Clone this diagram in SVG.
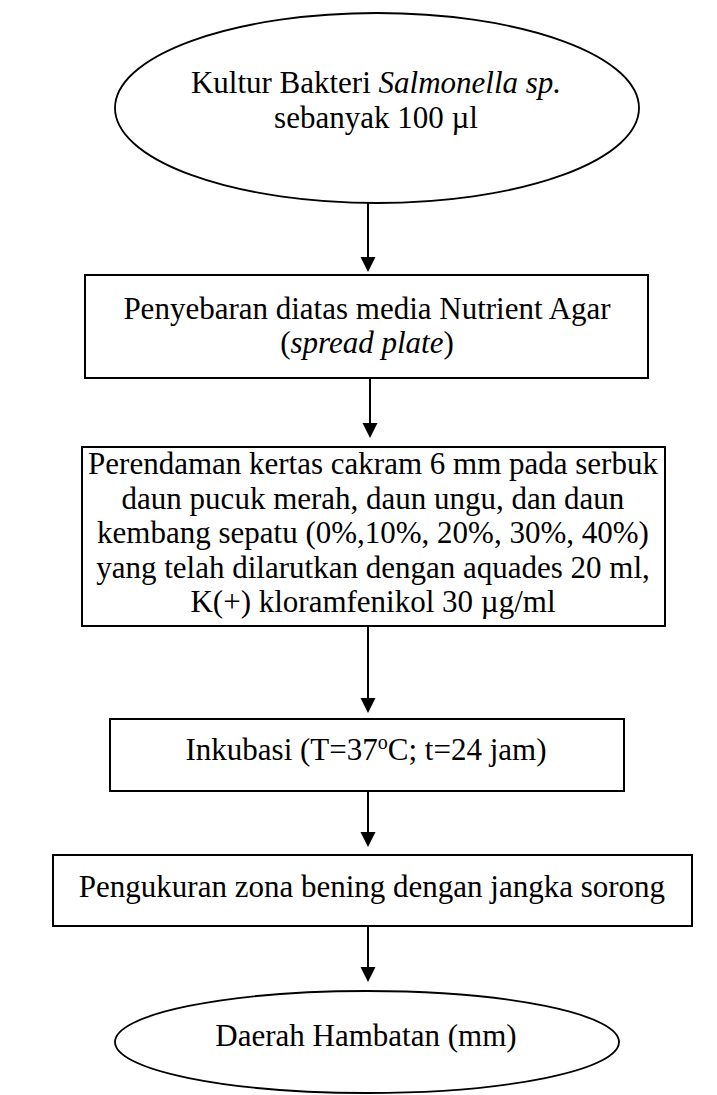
<svg xmlns="http://www.w3.org/2000/svg" width="717" height="1095" viewBox="0 0 717 1095">
  <style>
    .shape { fill: #ffffff; stroke: #000000; stroke-width: 2; }
    .oval { stroke-width: 1.8; }
    .lbl { font-family: "Liberation Serif", "Times New Roman", serif; font-size: 31px; fill: #000000; text-anchor: middle; }
    .conn { stroke: #000000; stroke-width: 2; fill: none; }
    .it { font-style: italic; }
  </style>
  <defs>
    <marker id="ah" markerWidth="16" markerHeight="16" refX="12" refY="7.5" orient="auto" markerUnits="userSpaceOnUse">
      <path d="M0,0 L15,7.5 L0,15 Z" fill="#000000"/>
    </marker>
  </defs>
  <rect width="717" height="1095" fill="#ffffff"/>

  <g id="connectors">
    <line class="conn" x1="368" y1="203" x2="368" y2="269" marker-end="url(#ah)"/>
    <line class="conn" x1="370" y1="378" x2="370" y2="435" marker-end="url(#ah)"/>
    <line class="conn" x1="368" y1="626" x2="368" y2="710" marker-end="url(#ah)"/>
    <line class="conn" x1="368" y1="791" x2="368" y2="844" marker-end="url(#ah)"/>
    <line class="conn" x1="368" y1="926" x2="368" y2="979" marker-end="url(#ah)"/>
  </g>

  <g id="node-kultur">
    <ellipse class="shape oval" cx="377" cy="108" rx="262" ry="95"/>
    <text class="lbl" x="376" y="93">Kultur Bakteri <tspan class="it">Salmonella sp.</tspan></text>
    <text class="lbl" x="376" y="128">sebanyak 100 µl</text>
  </g>

  <g id="node-penyebaran">
    <rect class="shape" x="85" y="275" width="563" height="103"/>
    <text class="lbl" x="367" y="319">Penyebaran diatas media Nutrient Agar</text>
    <text class="lbl" x="367" y="353">(<tspan class="it">spread plate</tspan>)</text>
  </g>

  <g id="node-perendaman">
    <rect class="shape" x="82" y="447" width="583" height="179"/>
    <text class="lbl" x="373" y="474">Perendaman kertas cakram 6 mm pada serbuk</text>
    <text class="lbl" x="373" y="508.5">daun pucuk merah, daun ungu, dan daun</text>
    <text class="lbl" x="373" y="543">kembang sepatu (0%,10%, 20%, 30%, 40%)</text>
    <text class="lbl" x="373" y="577.5">yang telah dilarutkan dengan aquades 20 ml,</text>
    <text class="lbl" x="373" y="612">K(+) kloramfenikol 30 µg/ml</text>
  </g>

  <g id="node-inkubasi">
    <rect class="shape" x="110" y="719" width="514" height="72"/>
    <text class="lbl" x="366" y="760">Inkubasi (T=37<tspan font-size="20" dy="-11">o</tspan><tspan dy="11">C; t=24 jam)</tspan></text>
  </g>

  <g id="node-pengukuran">
    <rect class="shape" x="53" y="855" width="639" height="71"/>
    <text class="lbl" x="372" y="897">Pengukuran zona bening dengan jangka sorong</text>
  </g>

  <g id="node-daerah">
    <ellipse class="shape oval" cx="367" cy="1042" rx="252" ry="51"/>
    <text class="lbl" x="366" y="1046">Daerah Hambatan (mm)</text>
  </g>
</svg>
